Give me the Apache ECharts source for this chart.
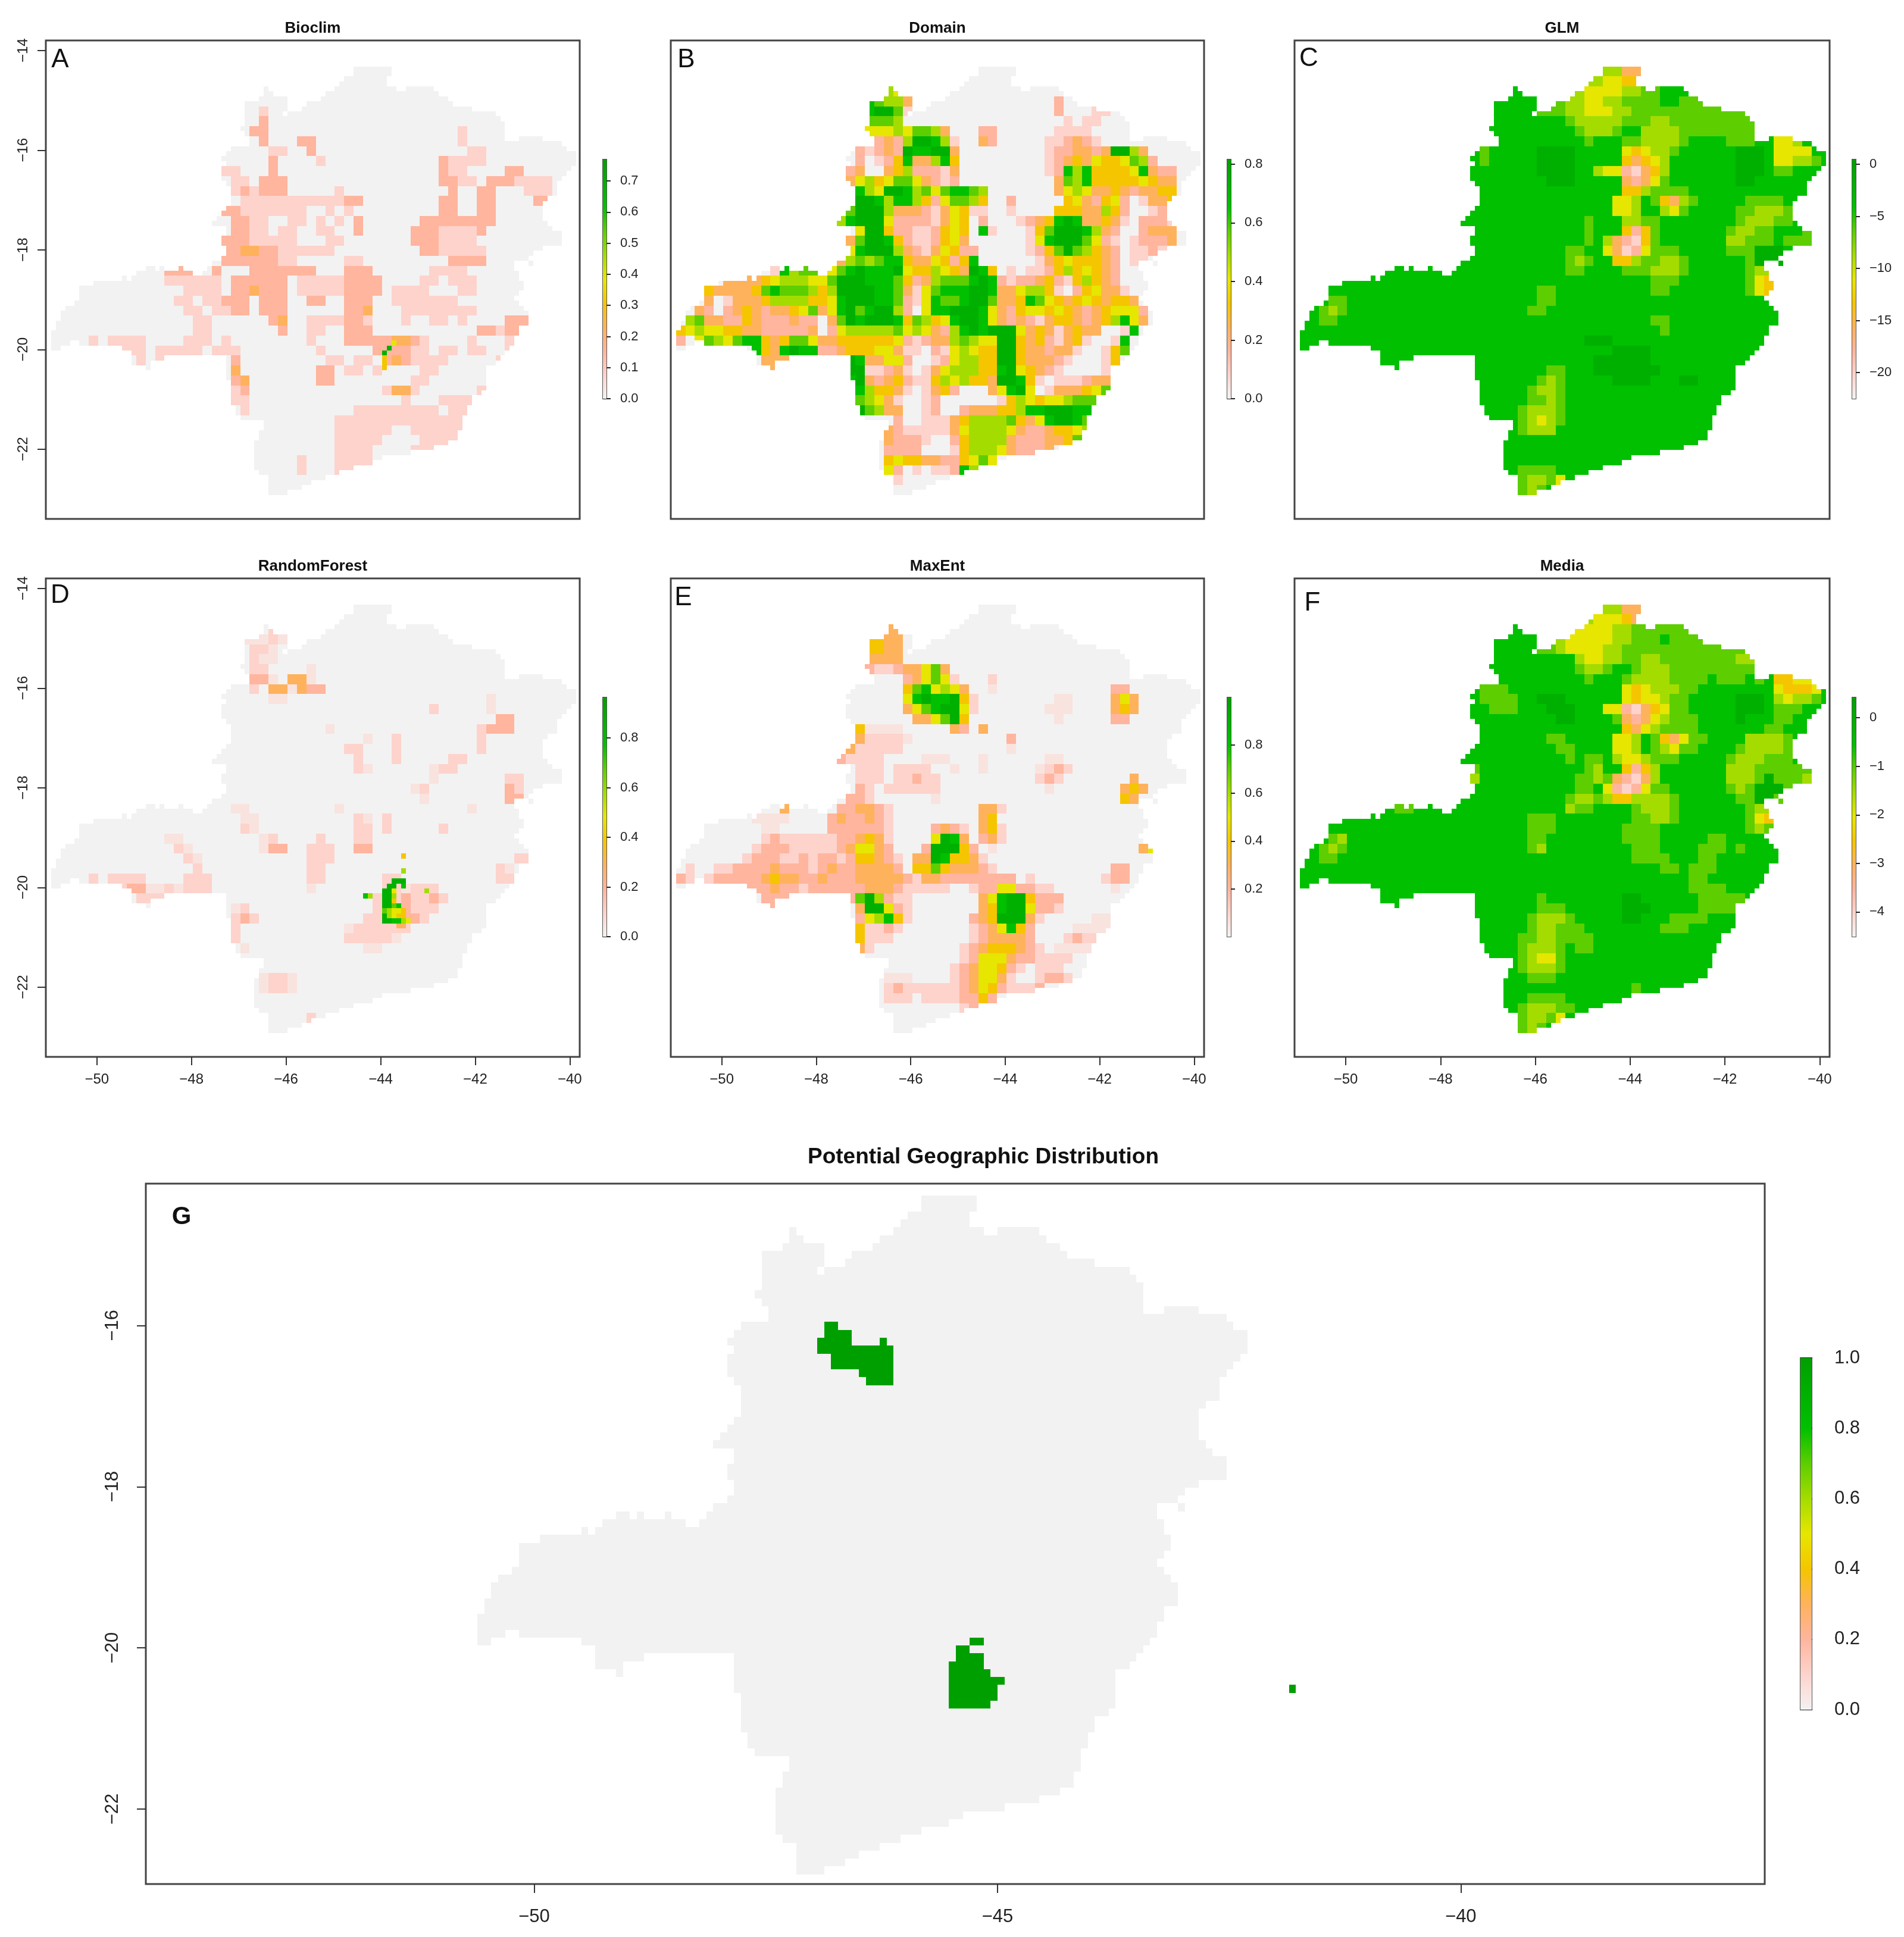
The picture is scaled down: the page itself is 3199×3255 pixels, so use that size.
<!DOCTYPE html>
<html>
<head>
<meta charset="utf-8">
<title>Potential Geographic Distribution</title>
<script src="https://cdn.jsdelivr.net/npm/echarts@6/dist/echarts.min.js"></script>
<style>html,body{margin:0;background:#fff}#main{width:3199px;height:3255px}</style>
</head>
<body>
<div id="main"></div>
<script>
// raster outline, one entry per 0.1 degree row from the north: "colStart-colEnd"
var maskRows = ["64-72","64-72","62-71","61-71","45-46 60-73 75-81","45-47 58-82","44-50 57-84","41-50 54-85","41-50 53-89","41-49 50-94",
"41-95","41-96","40-96","41-96","42-96 99-104","42-108","38-109","37-111","36-111","37-111",
"36-110","36-109","36-108","37-107","38-107","38-107","38-105","38-104","37-104","36-104",
"35-104","34-105","37-106","37-108","36-108","36-108","37-104","37-102","36-101","34-98 101-102",
"20-22 23-24 27-28 33-98","18-30 32-99","15-16 17-99","9-100","6-100","6-99","6-98","5-99","3-100","2-101",
"2-101","1-101","1-99","0-99","0-98","0-4 6-98","0-2 15-97","17-96","17-24 37-95","17-21 37-94",
"20-21 37-92","37-92","37-92","38-92","38-92","38-91","38-89","38-89","39-88","39-88",
"40-87","45-87","45-87","44-86","44-86","43-84","43-81","43-76","43-70","43-68",
"43-64","44-61","46-58","46-55","46-53","46-50"];

// suitability levels on a 0.2 degree raster, "col:levels" (0-9 along the colour ramp, f = faint)
var bioclimRows = ["","","","","22:1","22:2","21:22 43:1","22:2 26:22 43:1","23:11 27:2 44:11","23:2 28:1 41:21111",
"18:11 23:2 41:211 48:22","19:11 22:222 41:2211 46:2221 50:111","19:121222 30:1 42:2 45:22 50:111","20:1111111111 30:122 41:22 45:22 51:22","18:22 20:1111111 29:1 31:1 41:22 45:22",
"19:2211 25:11 28:1 30:1 32:2 39:22222222","19:2211 24:11 28:11 32:2 38:222 41:11112","18:222 21:11111 29:11 38:222 41:1111","18:223322 24:111111 39:22 41:11111","18:222222 24:11 31:11 42:2222",
"12:222 17:2 21:2222222 31:222 40:1111","12:111111 19:222222 26:1111 30:12222 39:11 42:111","14:1111 19:223222 26:11111 31:2222 36:1111 43:11","13:11 16:11 18:222 22:222 27:22 31:222 36:1111111","14:11 17:11 19:22 22:222 31:223 37:11111111",
"15:11 23:23 27:111 30:1221 37:1 40:11 43:1 48:222","15:11 24:2 27:11 31:222 45:22122","4:1 6:1111 14:111 18:1 27:1 31:222223321 44:1 48:11","6:1111 11:11111 17:111 28:1 34:222211 41:11 44:11 48:1","9:1 11:11 19:2 29:11 32:11 35:23211 40:11 47:11",
"19:3 28:22 31:11 34:1 39:11","19:23 28:22 38:11","19:12 35:1331 45:1","19:11 37:1 41:1111","20:1 32:11111111 40:1 42:111",
"30:111111111111111","30:111111 38:111111","30:11111 39:1111","30:1111 38:111","26:1 30:1111","26:1 30:11","",""];
var bioclimFine = [[57,70,9],[56,71,9],[55,72,5],[58,70,4],[59,70,4],[60,70,4]];

var domainRows = ["","","22:65","20:87663 40:2","20:89971 40:2 44:11","20:7776 41:1 43:11","20:55565 25:7763 32:22 40:1111","21:232699861 32:32 39:112321","19:21232 24:98899 29:3 39:12233 44:2 45:3 46:99 48:63","19:20124 24:833684 39:12343 44:5445762",
"18:2300 22:34622213 39:12868 44:44445 49:83 51:22","18:3564 22:5775321 29:2 40:3768 44:44444 49:54 51:33","19:86599867578876 40:3565334323344","19:99868864257764 35:2 41:453245201334","18:799963332135411 35:1 40:4443364200123",
"17:6899952222135402 36:12348983343102221","19:599422112454081 37:1479998632002333","18:37998421124530 37:1589997521012223","18:58999632135422 37:124797643201121","17:367678843354248 38:134544432011",
"10:186774 16:57898889544654398401 37:11246454320","5:3333456665579998887423677789821223421464320","3:433334787776469999887315788899833566410245331","3:3013334666644589998872158778997334875434543443","2:320234323345735897899620588999853245545432345552",
"1:6733224322232203798999847645899853232134432346853","0:4565544332222230256666675653268989995343134330018","0:205765788434775334444445212336765599434213410018","8:8438988223444553110215654499433233100147","9:333 18:98335520012566449943332100014",
"10:3 18:9911231013566644895432100001","18:89323421146564439984101112333","19:8644310134200035895013334578","19:765310012000000146545567778","19:97633001200233344688999888",
"23:2001113466667435899875","22:3211111356666532234456","22:322210024666632223347","22:222200014666532223","22:454433224575","22:5201011286","23:1",""];

var glmRows = ["32:66336","30:665544 36:7","28:66 30:55556677","27:7 28:66 30:55667777 40:7777","25:777 28:66 30:5556677777 40:77777777","28:76 30:6666777667 40:777777777","29:7 30:6667886666 40:77777777","30:7888776666 40:7888877788 50:556","19:7 25:9999 34:545667 46:999 50:5555","19:7 25:9999 34:434568 46:999 50:55667",
"25:9999 31:65521346 46:999 50:77","26:999 34:32357 46:99","34:446777 40:7","33:55687436 41:7 47:777 50:7","33:55688657 46:7766 50:67",
"30:7 34:667 37:7 46:7666 50:77","30:7 34:424 37:7 45:76677 53:77","30:7 32:63214 37:7 45:66777 51:77 53:7","28:77 32:5312 36:5777 45:777 48:99 50:9","28:76 30:7 33:44677667 47:7 48:99 50:9",
"28:77 34:7776667 47:766","37:777 47:7544","25:77 37:77 47:7544","3:77 25:77","2:767 24:77","2:77 37:77","38:7","30:999","33:9999","31:999999",
"25:877 31:9999999","25:767 33:9999 40:99","24:7667","24:7767","23:76667","23:76567","23:7666","","","","23:7777","23:7667 27:5","23:767"];

var forestRows = ["","","23:1","20:fff1f","21:11f","21:1ff","21:11 27:f","21:22f 25:33f","21:1 23:33f322","23:ff 46:f",
"40:1 46:f","47:22","29:f 45:1222","33:f 36:1 45:1","31:11 36:1 45:1","32:1 36:1 42:11","32:1f 40:f11","40:f 48:11","38:f1 48:21","39:f 48:22",
"19:ff 30:f 44:f","20:ff 32:1f 35:1","20:1f 32:11 35:1 41:1","12:ff 22:f1 28:1 32:11","13:1f 22:f22 27:111 32:22","14:1f 27:111 49:11","15:1 27:11 47:1f","4:1 6:1111 14:111 27:11 35:11 47:11","7:1 8:22 10:ff 12:1f111 27:f 35:11f 38:111","9:111 34:11121121",
"19:f1 34:1112111","19:121 33:1111221","19:1 31:f111111","19:1 31:11111f","20:f 33:ff","","","22:f11f","22:f11f","","","27:1",""];
var forestFine = [[50,74,4],[53,74,6],[55,72,9],[55,73,9],[55,74,9],[56,71,9],[56,72,9],[56,74,8],[57,70,9],[57,71,9],[57,72,5],[57,79,6],[58,66,8],[58,67,6],[58,70,9],[58,71,9],[58,72,6],[59,70,9],[59,71,9],[59,72,4],[60,70,9],[60,71,9],[60,72,7],[60,73,8],[61,70,7],[61,71,6],[61,72,5],[61,73,5],[61,74,4],[62,70,9],[62,71,6],[62,72,5],[62,73,4],[62,74,4],[63,70,9],[63,71,9],[63,72,8],[63,73,8],[63,74,6],[63,75,5],[64,73,3],[64,74,3]];

var maxentRows = ["","","22:33","20:4433","20:4433","20:3333","20:211233573","24:235751 33:1","24:4785653 33:f 46:22","24:58988941 40:ff 46:353",
"24:35789951 39:fff 46:343","25:335794 40:f 46:22","19:4ffff 29:32 32:3","18:331111 24:f 35:2","17:33 19:11111 35:f","17:21111 26:fff 32:f 39:ff","19:111 23:1111 29:f 32:f 38:f121","19:111 23:11211 38:121 48:3","19:21 22:111111 39:f 47:343","18:221 27:f 47:43",
"11:3 17:223321 32:331","8:ffff 16:2322321 32:34","9:ff 16:2222221 27:2321 32:341","9:12111111 17:223431 27:5983 32:231","8:12221111 16:1 17:235532 26:29994 31:2 33:f 49:35","7:1222112122 17:1244321 25:33984431","1:1 4:112222322212322333320447433321 46:22","0:21 3:122222343322322233333213322222222 37:1 45:122","4:1 6:12223221222222333211111 31:122552211 46:f","9:222 16:2 18:2796211 32:358994222",
"10:2 19:399521 32:348995221","19:256841 31:23499931 44:ff","19:41121 31:1235842 42:ffff","19:4111 31:1233332 41:1211","19:31 30:123444321 40:ffff","30:125553221111","29:12355421 38:111","22:fff 29:1235531 38:1221","22:12111111235421112","22:111 26:1111 30:2242","30:121","",""];

var mediaRows = ["32:66337","30:6555436","28:6555 32:5667777777","27:655555667778 39:7777","25:776555566777777777777 46:7","29:655667766777 41:77777 46:66","29:7667887666 39:777777777","30:78 34:76666777 42:78777 48:7 50:4455","19:777 34:5456667 41:78 50:544458","19:7777 25:999 34:5455 38:677 46:999 50:65667",
"19:8777 26:999 32:55213457 40:7 46:999 50:777","27:99 33:73235677 41:7 46:98 50:77","34:4356 38:7777 49:778","26:77 33:556874 39:357 42:78 47:6666 51:78","27:77 33:556 37:76577 46:76666 51:7",
"28:7 30:77 33:6556777 45:766677 50:77","18:7 30:76 34:4246 45:66677777 53:76","18:6 29:776732 35:13 37:6 45:6667977 52:7 53:66","29:77 32:5212 36:5778 45:76799 50:97","28:7667 32:6446666 39:7 41:8 46:77 48:99 50:7",
"10:77 27:867 29:77 35:7666 39:7 47:766 50:7","24:777 35:776 38:67 47:7544","24:777 34:7777 47:767","3:76 24:77 34:7777 43:77","2:767 24:76 35:777 42:777 46:7","2:77 35:7777 42:77","38:77 41:777","41:77","41:7777","25:7 34:99 42:77777",
"25:777 34:999 42:7777","24:76667 34:99 39:7777","24:76677 29:7 38:777","23:77667777","23:76667 29:77","23:76557","23:76667","24:777","35:7","24:7777","23:766677","23:7667 27:5","23:767"];

// green patches of the final map: row, first col, last col
var potentialCells = [[16,50,51],[17,50,53],[18,49,53],[18,58,58],[19,49,59],[20,51,59],[21,51,59],[22,55,59],[23,56,59],
[56,71,72],[57,69,70],[58,69,72],[59,68,72],[60,68,73],[61,68,75],[62,68,74],[63,68,74],[64,68,73],[62,117,117]];

var rampStops = [0,0.05,0.1,0.2,0.3,0.4,0.5,0.6,0.7,0.8,0.9,1];
var rampColors = ['#f2f2f2','#f9e3df','#fdd3cc','#ffb59e','#ffb25c','#f5c500','#e6e600','#a4dc00','#5dce00','#00c000','#00b000','#009f00'];

var yTicks = [-14,-16,-18,-20,-22];
var xTicks = [-50,-48,-46,-44,-42,-40];
var gYTicks = [-16,-18,-20,-22];
var gXTicks = [-50,-45,-40];

var bioclimTicks = [0,0.1,0.2,0.3,0.4,0.5,0.6,0.7];
var domainTicks = [0,0.2,0.4,0.6,0.8];
var glmTicks = [0,-5,-10,-15,-20];
var forestTicks = [0,0.2,0.4,0.6,0.8];
var maxentTicks = [0.2,0.4,0.6,0.8];
var mediaTicks = [0,-1,-2,-3,-4];
var potentialTicks = [0,0.2,0.4,0.6,0.8,1];

var lonStart = -50.97, latStart = -14.32, cellDeg = 0.1, coarseCells = 2;
var levelValues = {'0':0,f:0.05,'1':0.1,'2':0.2,'3':0.3,'4':0.4,'5':0.5,'6':0.6,'7':0.7,'8':0.8,'9':0.9,a:1};

var panels = [
  {title:'Bioclim', letter:'A', letterX:101, letterY:101, rows:bioclimRows, fine:bioclimFine, base:'0', left:77, top:68, width:897, height:804, barLeft:1013, z:[0,0.769], ticks:bioclimTicks, showX:false, showY:true},
  {title:'Domain', letter:'B', letterX:1153, letterY:101, rows:domainRows, base:'0', left:1127, top:68, width:896, height:804, barLeft:2062, z:[0,0.816], ticks:domainTicks, showX:false, showY:false},
  {title:'GLM', letter:'C', letterX:2199, letterY:99, rows:glmRows, base:'8', left:2175, top:68, width:899, height:804, barLeft:3112, z:[-22.5,0.46], ticks:glmTicks, showX:false, showY:false},
  {title:'RandomForest', letter:'D', letterX:101, letterY:1001, rows:forestRows, fine:forestFine, base:'0', left:77, top:972, width:897, height:804, barLeft:1013, z:[0,0.963], ticks:forestTicks, showX:true, showY:true},
  {title:'MaxEnt', letter:'E', letterX:1148, letterY:1005, rows:maxentRows, base:'0', left:1127, top:972, width:896, height:804, barLeft:2062, z:[0.002,0.998], ticks:maxentTicks, showX:true, showY:false},
  {title:'Media', letter:'F', letterX:2205, letterY:1014, rows:mediaRows, base:'8', left:2175, top:972, width:899, height:804, barLeft:3112, z:[-4.51,0.42], ticks:mediaTicks, showX:true, showY:false}
];

function minusLabel(v) {
  return v < 0 ? '\u2212' + Math.abs(v) : String(v);
}
function rampColor(t) {
  t = Math.min(1, Math.max(0, t));
  for (var i = 1; i < rampStops.length; i++) {
    if (t <= rampStops[i] + 1e-9) {
      var frac = (t - rampStops[i-1]) / (rampStops[i] - rampStops[i-1]);
      return echarts.color.lerp(Math.min(1, Math.max(0, frac)), [rampColors[i-1], rampColors[i]]);
    }
  }
  return rampColors[rampColors.length - 1];
}
function decodeRows(rows) {
  return rows.map(function (row) {
    var out = {};
    row.split(' ').forEach(function (token) {
      if (!token) return;
      var parts = token.split(':');
      for (var i = 0; i < parts[1].length; i++) out[+parts[0] + i] = parts[1][i];
    });
    return out;
  });
}
function plainProject(col, row) {
  return [lonStart + col * cellDeg, latStart - row * cellDeg];
}
// the final map is not drawn to scale with its own axis labels
function potentialProject(col, row) {
  return [-50.613 + col * 0.07486, -14.39 - row * 0.0979];
}
function cellItem(col, row, value, project) {
  var a = project(col, row), b = project(col + 1, row + 1);
  return [a[0], a[1], b[0], b[1], value];
}
function buildCells(rows, base, fine, z, project) {
  var grid = decodeRows(rows), out = [];
  maskRows.forEach(function (spans, r) {
    spans.split(' ').forEach(function (span) {
      var ends = span.split('-');
      for (var c = +ends[0]; c < +ends[1]; c++) {
        var line = grid[Math.floor(r / coarseCells)] || {};
        var key = line[Math.floor(c / coarseCells)];
        var t = levelValues[key === undefined ? base : key];
        out.push(cellItem(c, r, z[0] + t * (z[1] - z[0]), project));
      }
    });
  });
  (fine || []).forEach(function (f) {
    out.push(cellItem(f[1], f[0], z[0] + levelValues[String(f[2])] * (z[1] - z[0]), project));
  });
  return out;
}
function cellRenderer(z) {
  var cache = {};
  return function (params, api) {
    var p0 = api.coord([api.value(0), api.value(1)]);
    var p1 = api.coord([api.value(2), api.value(3)]);
    var x0 = Math.round(p0[0]), y0 = Math.round(p0[1]);
    var v = api.value(4);
    if (!cache[v]) cache[v] = rampColor((v - z[0]) / (z[1] - z[0]));
    return {
      type: 'rect',
      shape: {x: x0, y: y0, width: Math.round(p1[0]) - x0, height: Math.round(p1[1]) - y0},
      style: {fill: cache[v]}
    };
  };
}
function barRenderer(params, api) {
  var p0 = api.coord([0, api.value(1)]);
  var p1 = api.coord([1, api.value(0)]);
  var stops = rampStops.map(function (s, i) {
    return {offset: 1 - s, color: rampColors[i]};
  }).reverse();
  return {
    type: 'rect',
    shape: {x: p0[0], y: p0[1], width: p1[0] - p0[0], height: p1[1] - p0[1]},
    style: {fill: new echarts.graphic.LinearGradient(0, 0, 0, 1, stops)}
  };
}

var fontName = '"Liberation Sans", Arial, sans-serif';
var option = {
  animation: false,
  backgroundColor: '#fff',
  title: [], grid: [], xAxis: [], yAxis: [], series: []
};

function addTitle(text, x, y, size, bold) {
  option.title.push({
    text: text, left: x, top: y - size / 2, textAlign: 'center',
    padding: 0,
    textStyle: {fontFamily: fontName, fontSize: size, fontWeight: bold ? 'bold' : 'normal', color: '#111', lineHeight: size}
  });
}
function addMap(m) {
  var idx = option.grid.length;
  option.grid.push({left: m.left, top: m.top, width: m.width, height: m.height, show: true, borderColor: '#444', borderWidth: 3, backgroundColor: '#fff'});
  option.xAxis.push({
    type: 'value', gridIndex: idx, min: m.xMin, max: m.xMax, show: m.showX, position: 'bottom',
    splitLine: {show: false}, axisLine: {show: false},
    axisTick: {show: true, length: m.tickLen, customValues: m.xTicks, lineStyle: {color: '#333', width: 2}},
    axisLabel: {customValues: m.xTicks, formatter: minusLabel, margin: m.labelMargin, fontSize: m.fontSize, fontFamily: fontName, color: '#222'}
  });
  option.yAxis.push({
    type: 'value', gridIndex: idx, min: m.yMin, max: m.yMax, show: m.showY, position: 'left',
    splitLine: {show: false}, axisLine: {show: false},
    axisTick: {show: true, length: m.tickLen, customValues: m.yTicks, lineStyle: {color: '#333', width: 2}},
    axisLabel: {customValues: m.yTicks, formatter: minusLabel, rotate: 90, margin: m.labelMargin, fontSize: m.fontSize, fontFamily: fontName, color: '#222'}
  });
  option.series.push({
    type: 'custom', xAxisIndex: idx, yAxisIndex: idx, silent: true, clip: false,
    progressive: 0, animation: false, encode: {x: [0, 2], y: [1, 3]},
    renderItem: cellRenderer(m.z), data: m.cells
  });
}
function addBar(b) {
  var idx = option.grid.length;
  option.grid.push({left: b.left, top: b.top, width: b.width, height: b.height, show: true, borderColor: '#555', borderWidth: 2});
  option.xAxis.push({type: 'value', gridIndex: idx, min: 0, max: 1, show: false});
  option.yAxis.push({
    type: 'value', gridIndex: idx, min: b.z[0], max: b.z[1], position: 'right',
    splitLine: {show: false}, axisLine: {show: false},
    axisTick: {show: true, length: b.tickLen, customValues: b.ticks, lineStyle: {color: '#222', width: 2}},
    axisLabel: {customValues: b.ticks, margin: b.labelMargin, fontSize: b.fontSize, fontFamily: fontName, color: '#222', formatter: b.formatter}
  });
  option.series.push({
    type: 'custom', xAxisIndex: idx, yAxisIndex: idx, silent: true, animation: false,
    encode: {y: [0, 1]}, renderItem: barRenderer, data: [[b.z[0], b.z[1]]]
  });
}

panels.forEach(function (p) {
  addTitle(p.title, p.left + p.width / 2, p.top === 68 ? 48 : 952, 26, true);
  addTitle(p.letter, p.letterX, p.letterY, 44, false);
  addMap({
    left: p.left, top: p.top, width: p.width, height: p.height,
    xMin: -51.08, xMax: -39.79, yMin: -23.4, yMax: -13.8,
    xTicks: xTicks, yTicks: yTicks, showX: p.showX, showY: p.showY,
    tickLen: 14, labelMargin: 26, fontSize: 24, z: p.z,
    cells: buildCells(p.rows, p.base, p.fine, p.z, plainProject)
  });
  addBar({
    left: p.barLeft, top: p.top + 200, width: 6, height: 402, z: p.z, ticks: p.ticks,
    tickLen: 13, labelMargin: 23, fontSize: 22,
    formatter: p.z[0] < 0 ? minusLabel : function (v) { return v.toFixed(1); }
  });
});

// panel G
var potentialZ = [0, 1];
var potentialFine = [];
potentialCells.forEach(function (c) {
  for (var k = c[1]; k <= c[2]; k++) potentialFine.push([c[0], k, 'a']);
});
addTitle('Potential Geographic Distribution', 1652, 1945, 37, true);
addTitle('G', 305, 2045, 42, true);
addMap({
  left: 245, top: 1989, width: 2720, height: 1177,
  xMin: -54.19, xMax: -36.72, yMin: -22.93, yMax: -14.24,
  xTicks: gXTicks, yTicks: gYTicks, showX: true, showY: true,
  tickLen: 15, labelMargin: 40, fontSize: 31, z: potentialZ,
  cells: buildCells([], '0', potentialFine, potentialZ, potentialProject)
});
addBar({
  left: 3025, top: 2282, width: 19, height: 591, z: potentialZ, ticks: potentialTicks,
  tickLen: 20, labelMargin: 38, fontSize: 31,
  formatter: function (v) { return v.toFixed(1); }
});

var myChart = echarts.init(document.getElementById('main'));
myChart.setOption(option);
</script>
</body>
</html>
